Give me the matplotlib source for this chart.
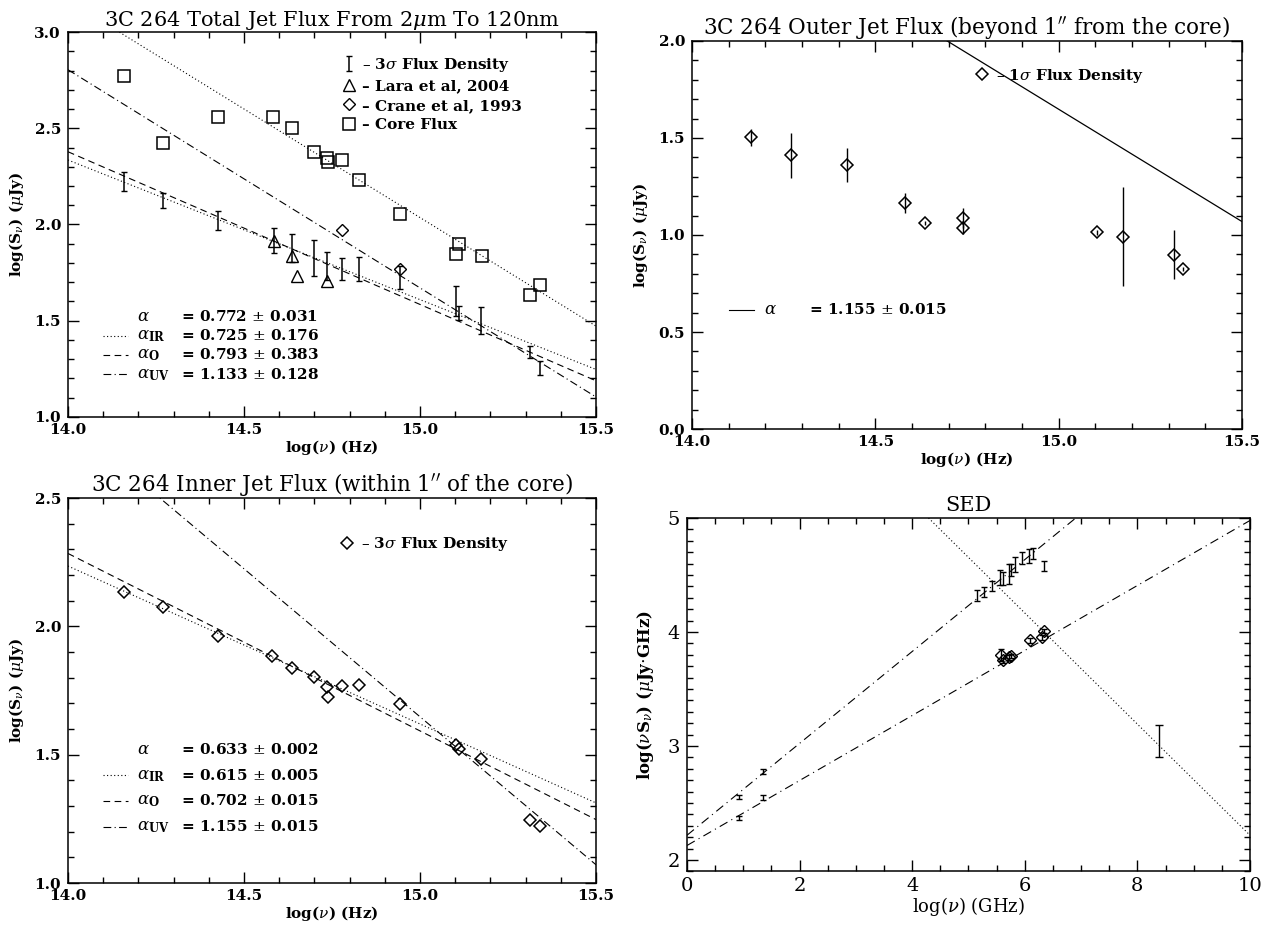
import numpy as np
import matplotlib
matplotlib.use('Agg')
from matplotlib import pyplot as plt
from matplotlib.ticker import MultipleLocator, FormatStrFormatter

plt.rcParams['font.family'] = 'DejaVu Serif'
plt.rcParams['mathtext.fontset'] = 'dejavuserif'

# ---- total jet (top left) ----
core_x = [14.16, 14.27, 14.425, 14.581, 14.636, 14.698, 14.737, 14.739, 14.778, 14.827, 14.944,
          15.102, 15.111, 15.175, 15.313, 15.34]
core_y = [2.774, 2.425, 2.561, 2.557, 2.502, 2.375, 2.345, 2.323, 2.333, 2.231, 2.057,
          1.847, 1.899, 1.835, 1.634, 1.685]
jet_x = [14.16, 14.27, 14.425, 14.584, 14.636, 14.698, 14.737, 14.778, 14.827, 14.944,
         15.102, 15.11, 15.174, 15.313, 15.34]
jet_y = [2.222, 2.127, 2.022, 1.918, 1.877, 1.825, 1.785, 1.770, 1.769, 1.725,
         1.603, 1.540, 1.502, 1.338, 1.253]
jet_err = [0.049, 0.039, 0.05, 0.065, 0.073, 0.094, 0.071, 0.057, 0.064, 0.058,
           0.08, 0.035, 0.07, 0.033, 0.036]
lara_x = [14.584, 14.636, 14.65, 14.737]
lara_y = [1.913, 1.835, 1.731, 1.705]
crane_x = [14.778, 14.944]
crane_y = [1.969, 1.769]

fit_x = [14.0, 15.5]
tot_core_fit = [3.164, 1.472]
tot_ir_fit = [2.335, 1.247]
tot_o_fit = [2.378, 1.188]
tot_uv_fit = [2.804, 1.104]
tot_alpha = [0.772, 0.725, 0.793, 1.133]
tot_alpha_err = [0.031, 0.176, 0.383, 0.128]

# ---- outer jet (top right) ----
outer_x = [14.16, 14.271, 14.424, 14.58, 14.636, 14.738, 14.74, 15.104, 15.174, 15.315, 15.34]
outer_y = [1.503, 1.41, 1.36, 1.166, 1.062, 1.088, 1.034, 1.014, 0.99, 0.899, 0.825]
outer_err = [0.045, 0.115, 0.088, 0.052, 0.012, 0.052, 0.03, 0.012, 0.255, 0.127, 0.012]
outer_fit = [2.806, 1.069]
outer_alpha = [1.155]
outer_alpha_err = [0.015]

# ---- inner jet (bottom left) ----
inner_x = [14.16, 14.27, 14.425, 14.58, 14.636, 14.698, 14.737, 14.739, 14.778, 14.827, 14.944,
           15.102, 15.11, 15.174, 15.313, 15.34]
inner_y = [2.132, 2.074, 1.961, 1.884, 1.839, 1.802, 1.762, 1.724, 1.769, 1.771, 1.699,
           1.539, 1.523, 1.484, 1.247, 1.221]
inner_ir_fit = [2.235, 1.312]
inner_o_fit = [2.284, 1.247]
inner_uv_fit = [2.801, 1.071]
inner_alpha = [0.633, 0.615, 0.702, 1.155]
inner_alpha_err = [0.002, 0.005, 0.015, 0.015]

# ---- SED (bottom right) ----
radio_x = [0.916, 1.355]
radio_hi_y = [2.554, 2.774]
radio_lo_y = [2.367, 2.548]
radio_err = [0.02, 0.02]
opt_x = [5.157, 5.275, 5.414, 5.568, 5.619, 5.714, 5.751, 5.824, 5.949, 6.081, 6.154, 6.337]
opt_y = [4.318, 4.35, 4.40, 4.476, 4.47, 4.505, 4.543, 4.59, 4.647, 4.668, 4.69, 4.579]
opt_err = [0.05, 0.043, 0.043, 0.067, 0.054, 0.088, 0.05, 0.068, 0.054, 0.06, 0.05, 0.04]
dia_x = [5.582, 5.619, 5.714, 5.751, 6.10, 6.30, 6.35]
dia_y = [3.799, 3.75, 3.777, 3.79, 3.927, 3.954, 4.008]
dia_err = [0.05, 0.02, 0.02, 0.02, 0.02, 0.02, 0.02]
xray_x = [8.39]
xray_y = [3.04]
xray_err = [0.14]
sed_hi_x = [0.0, 10.0]
sed_hi_y = [2.217, 6.247]
sed_lo_x = [0.0, 10.0]
sed_lo_y = [2.127, 4.978]
sed_x_fit_x = [4.29, 10.0]
sed_x_fit_y = [5.0, 2.217]

DOT = (0, (1, 2.2))
DASH = (0, (6, 4))
DASHDOT = (0, (7, 3, 1, 3))
LW = 0.8

fig = plt.figure(figsize=(12.73, 9.25), dpi=100)
ax1 = fig.add_axes([0.0534, 0.5492, 0.4148, 0.4162])
ax2 = fig.add_axes([0.5436, 0.5362, 0.4321, 0.4195])
ax3 = fig.add_axes([0.0534, 0.0454, 0.4148, 0.4162])
ax4 = fig.add_axes([0.5397, 0.058, 0.4422, 0.382])


def style(ax, xmaj, xmin, ymaj, ymin, fmt, size=11, weight='bold'):
    ax.xaxis.set_major_locator(MultipleLocator(xmaj))
    ax.xaxis.set_minor_locator(MultipleLocator(xmin))
    ax.yaxis.set_major_locator(MultipleLocator(ymaj))
    ax.yaxis.set_minor_locator(MultipleLocator(ymin))
    if fmt:
        ax.xaxis.set_major_formatter(FormatStrFormatter(fmt))
        ax.yaxis.set_major_formatter(FormatStrFormatter(fmt))
    ax.tick_params(which='both', direction='in', top=True, right=True, width=1)
    ax.tick_params(which='major', length=8, labelsize=size)
    ax.tick_params(axis='x', which='major', pad=4)
    ax.tick_params(axis='y', which='major', pad=5)
    ax.tick_params(which='minor', length=4)
    for lab in ax.get_xticklabels() + ax.get_yticklabels():
        lab.set_fontweight(weight)
    for sp in ax.spines.values():
        sp.set_linewidth(1.1)


def alpha_table(ax, names, styles, vals, errs, y0, dy):
    for i, (nm, ls, a, e) in enumerate(zip(names, styles, vals, errs)):
        y = y0 - i * dy
        if ls is not None:
            ax.plot([14.10, 14.17], [y, y], color='k', lw=LW, ls=ls)
        ax.text(14.195, y, nm, fontsize=12, va='center', ha='left')
        ax.text(14.32, y, f'= {a:.3f} $\\pm$ {e:.3f}', fontsize=11, fontweight='bold',
                va='center', ha='left')


alpha_names = [r'$\alpha$', r'$\alpha_{\mathbf{IR}}$', r'$\alpha_{\mathbf{O}}$', r'$\alpha_{\mathbf{UV}}$']
leg_kw = dict(frameon=False, handlelength=0.8, handletextpad=0.5,
              borderpad=0, borderaxespad=0, prop={'size': 11, 'weight': 'bold'})

# top left
ax1.plot(fit_x, tot_core_fit, color='k', lw=LW, ls=DOT)
ax1.plot(fit_x, tot_ir_fit, color='k', lw=LW, ls=DOT)
ax1.plot(fit_x, tot_o_fit, color='k', lw=LW, ls=DASH)
ax1.plot(fit_x, tot_uv_fit, color='k', lw=LW, ls=DASHDOT)
h_err = ax1.errorbar(jet_x, jet_y, yerr=jet_err, fmt='none', ecolor='k', elinewidth=1.1, capsize=2.5)
h_tri, = ax1.plot(lara_x, lara_y, '^', ms=8, mfc='none', mec='k', mew=1.0, ls='none')
h_dia, = ax1.plot(crane_x, crane_y, 'D', ms=6, mfc='none', mec='k', mew=1.0, ls='none')
h_sq, = ax1.plot(core_x, core_y, 's', ms=9, mfc='none', mec='k', mew=1.1, ls='none')
ax1.legend([h_err, h_tri, h_dia, h_sq],
           ['\u2013 3$\\sigma$ Flux Density', '\u2013 Lara et al, 2004',
            '\u2013 Crane et al, 1993', '\u2013 Core Flux'],
           loc='upper left', bbox_to_anchor=(14.78, 2.875), bbox_transform=ax1.transData,
           labelspacing=0.35, **leg_kw)
alpha_table(ax1, alpha_names, [None, DOT, DASH, DASHDOT], tot_alpha, tot_alpha_err, 1.523, 0.1)
ax1.set_xlim(14.0, 15.5)
ax1.set_ylim(1.0, 3.0)
style(ax1, 0.5, 0.1, 0.5, 0.1, '%.1f')
ax1.set_title(r'3C 264 Total Jet Flux From 2$\mu$m To 120nm', fontsize=15, pad=3)
ax1.set_xlabel(r'log($\nu$) (Hz)', fontsize=11, fontweight='bold', labelpad=1)
ax1.set_ylabel(r'log(S$_{\nu}$) ($\mu$Jy)', fontsize=11, fontweight='bold', labelpad=6)

# top right
ax2.plot(fit_x, outer_fit, color='k', lw=0.9)
ax2.errorbar(outer_x, outer_y, yerr=outer_err, fmt='none', ecolor='k', elinewidth=1.0)
h_od, = ax2.plot(outer_x, outer_y, 'D', ms=6.5, mfc='none', mec='k', mew=1.1, ls='none')
ax2.legend([h_od], ['\u2013 1$\\sigma$ Flux Density'],
           loc='center left', bbox_to_anchor=(14.775, 1.821), bbox_transform=ax2.transData,
           **leg_kw)
alpha_table(ax2, [r'$\alpha$'], ['-'], outer_alpha, outer_alpha_err, 0.614, 0.1)
ax2.set_xlim(14.0, 15.5)
ax2.set_ylim(0.0, 2.0)
style(ax2, 0.5, 0.1, 0.5, 0.1, '%.1f')
ax2.set_title('3C 264 Outer Jet Flux (beyond 1$^{\\prime\\prime}$ from the core)', fontsize=15.5, pad=3)
ax2.set_xlabel(r'log($\nu$) (Hz)', fontsize=11, fontweight='bold', labelpad=1)
ax2.set_ylabel(r'log(S$_{\nu}$) ($\mu$Jy)', fontsize=11, fontweight='bold', labelpad=6)

# bottom left
ax3.plot(fit_x, inner_ir_fit, color='k', lw=LW, ls=DOT)
ax3.plot(fit_x, inner_o_fit, color='k', lw=LW, ls=DASH)
ax3.plot(fit_x, inner_uv_fit, color='k', lw=LW, ls=DASHDOT)
h_id, = ax3.plot(inner_x, inner_y, 'D', ms=6.5, mfc='none', mec='k', mew=1.1, ls='none')
ax3.legend([h_id], ['\u2013 3$\\sigma$ Flux Density'],
           loc='center left', bbox_to_anchor=(14.775, 2.32), bbox_transform=ax3.transData,
           **leg_kw)
alpha_table(ax3, alpha_names, [None, DOT, DASH, DASHDOT], inner_alpha, inner_alpha_err, 1.52, 0.1)
ax3.set_xlim(14.0, 15.5)
ax3.set_ylim(1.0, 2.5)
style(ax3, 0.5, 0.1, 0.5, 0.1, '%.1f')
ax3.set_title('3C 264 Inner Jet Flux (within 1$^{\\prime\\prime}$ of the core)', fontsize=15.5, pad=3)
ax3.set_xlabel(r'log($\nu$) (Hz)', fontsize=11, fontweight='bold', labelpad=1)
ax3.set_ylabel(r'log(S$_{\nu}$) ($\mu$Jy)', fontsize=11, fontweight='bold', labelpad=6)

# bottom right: SED
SED_DD = (0, (8, 4, 1, 4))
ax4.plot(sed_hi_x, sed_hi_y, color='k', lw=LW, ls=SED_DD)
ax4.plot(sed_lo_x, sed_lo_y, color='k', lw=LW, ls=SED_DD)
ax4.plot(sed_x_fit_x, sed_x_fit_y, color='k', lw=LW, ls=DOT)
ax4.errorbar(radio_x, radio_hi_y, yerr=radio_err, fmt='none', ecolor='k', elinewidth=1.0, capsize=2)
ax4.errorbar(radio_x, radio_lo_y, yerr=radio_err, fmt='none', ecolor='k', elinewidth=1.0, capsize=2)
ax4.errorbar(opt_x, opt_y, yerr=opt_err, fmt='none', ecolor='k', elinewidth=1.0, capsize=2.5)
ax4.errorbar(dia_x, dia_y, yerr=dia_err, fmt='D', ms=6.5, mfc='none', mec='k', mew=1.0,
             ecolor='k', elinewidth=1.0, capsize=2)
ax4.errorbar(xray_x, xray_y, yerr=xray_err, fmt='none', ecolor='k', elinewidth=1.0, capsize=3)
ax4.set_xlim(0, 10)
ax4.set_ylim(1.9, 5.0)
style(ax4, 2, 0.5, 1, 0.1, '%d', size=14, weight='normal')
ax4.set_title('SED', fontsize=15, pad=5)
ax4.set_xlabel(r'log($\nu$) (GHz)', fontsize=13, labelpad=0)
ax4.set_ylabel(r'log($\nu$S$_{\nu}$) ($\mu$Jy$\cdot$GHz)', fontsize=12, fontweight='bold', labelpad=8)

fig.savefig('out.png', dpi=100)
